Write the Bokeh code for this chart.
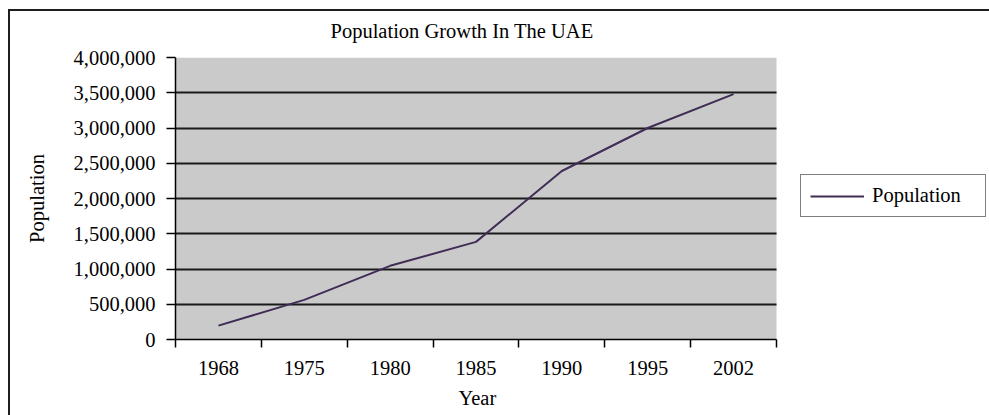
from bokeh.plotting import figure
from bokeh.models import (Range1d, FixedTicker, NumeralTickFormatter, Legend, LegendItem,
                          BoxAnnotation, Grid, Title)
from bokeh.embed import file_html
from bokeh.resources import INLINE

years = ["1968", "1975", "1980", "1985", "1990", "1995", "2002"]
population = [197000, 562000, 1045000, 1385000, 2390000, 3000000, 3480000]
y_ticks = [0, 500000, 1000000, 1500000, 2000000, 2500000, 3000000, 3500000, 4000000]

FONT = "Liberation Serif"
FS = "20.5px"

n = len(years)
xs = [i + 0.5 for i in range(n)]

W, H = 989, 415
LEFT, TOP, BOTTOM = 175, 57, 75
AREA_W = 601  # pixel width of the grey plotting area
x_end = n * (W - LEFT) / AREA_W

p = figure(width=W, height=H, output_backend="svg", toolbar_location=None,
           x_range=Range1d(0, x_end), y_range=Range1d(0, y_ticks[-1]),
           min_border_left=LEFT, min_border_right=0, min_border_top=TOP, min_border_bottom=BOTTOM)
p.styles = {"background": "linear-gradient(#1e1e1e, #1e1e1e) 8px 9px / 100% 2px no-repeat, "
                          "linear-gradient(#1e1e1e, #1e1e1e) 8px 9px / 2px 100% no-repeat, #ffffff"}
p.background_fill_color = "white"
p.border_fill_color = None
p.outline_line_color = None

p.add_layout(BoxAnnotation(left=0, right=n, bottom=y_ticks[0], top=y_ticks[-1],
                           fill_color="#cacaca", fill_alpha=1, line_color=None, level="image"))

r = p.line(x=xs, y=population, line_color="#3f2d55", line_width=2)

# title
p.title.text = "Population Growth In The UAE"
p.title.align = "left"
p.title.offset = 155
p.title.standoff = 32
p.title.text_font = FONT
p.title.text_font_style = "normal"
p.title.text_font_size = FS
p.title.text_color = "black"

# x axis
xa = p.xaxis[0]
xa.bounds = (0, n)
xa.ticker = FixedTicker(ticks=xs, minor_ticks=list(range(n + 1)))
xa.major_label_overrides = {x: y for x, y in zip(xs, years)}
xa.major_tick_line_color = None
xa.minor_tick_out = 8
xa.minor_tick_in = 0
xa.minor_tick_line_color = "black"
xa.minor_tick_line_width = 1.5
xa.axis_line_color = "black"
xa.axis_line_width = 1.5
xa.major_label_text_font = FONT
xa.major_label_text_font_size = FS
xa.major_label_text_color = "black"
xa.major_label_standoff = 13

p.add_layout(Title(text="Year", align="left", offset=283, standoff=14,
                   text_font=FONT, text_font_style="normal", text_font_size=FS,
                   text_color="black"), "below")

# y axis
ya = p.yaxis[0]
ya.ticker = FixedTicker(ticks=y_ticks, minor_ticks=[])
ya.formatter = NumeralTickFormatter(format="0,0")
ya.major_tick_out = 9
ya.major_tick_in = 0
ya.major_tick_line_color = "black"
ya.major_tick_line_width = 1.5
ya.axis_line_color = "black"
ya.axis_line_width = 1.5
ya.major_label_text_font = FONT
ya.major_label_text_font_size = FS
ya.major_label_text_color = "black"
ya.major_label_standoff = 11
ya.axis_label = "Population"
ya.axis_label_text_font = FONT
ya.axis_label_text_font_size = FS
ya.axis_label_text_font_style = "normal"
ya.axis_label_text_color = "black"
ya.axis_label_standoff = 23

p.xgrid.visible = False
if "cross_bounds" in Grid.properties():
    p.ygrid.cross_bounds = (0, n)
    p.ygrid.grid_line_color = "#1a1a1a"
    p.ygrid.grid_line_width = 2
else:
    p.ygrid.visible = False
    p.segment(x0=[0] * len(y_ticks), x1=[n] * len(y_ticks), y0=y_ticks, y1=y_ticks,
              line_color="#1a1a1a", line_width=2, level="underlay")

legend = Legend(items=[LegendItem(label="Population", renderers=[r])],
                location=(625, 122))
legend.border_line_color = "black"
legend.border_line_width = 1.5
legend.background_fill_color = "white"
legend.background_fill_alpha = 1
legend.label_text_font = FONT
legend.label_text_font_size = FS
legend.label_text_color = "black"
legend.glyph_width = 54
legend.glyph_height = 20
legend.label_standoff = 8
legend.label_height = 20
legend.label_width = 104
legend.padding = 9
legend.margin = 0
legend.spacing = 0
p.add_layout(legend)

open("out.html", "w").write(file_html(p, INLINE))
